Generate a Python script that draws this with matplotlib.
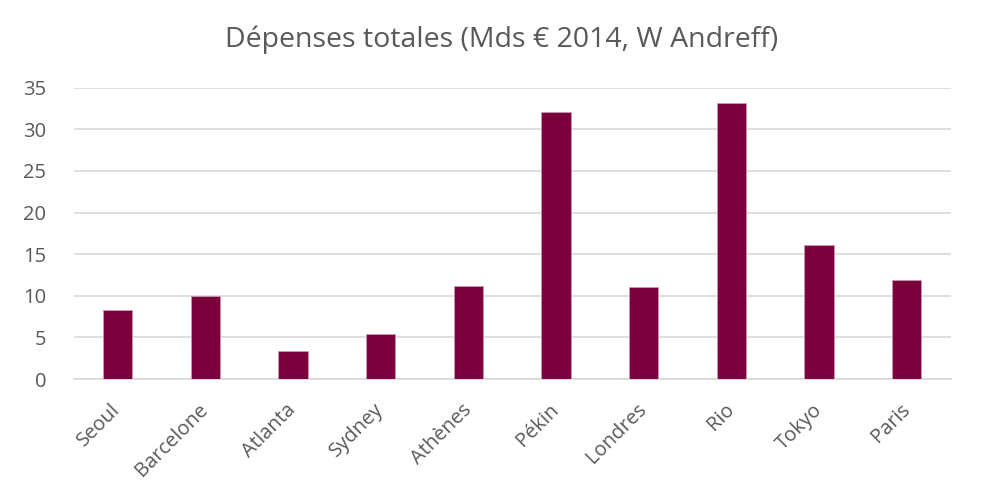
import matplotlib.pyplot as plt

# Dépenses totales par ville olympique (Mds € 2014)
villes = ["Seoul", "Barcelone", "Atlanta", "Sydney", "Athènes", "Pékin", "Londres", "Rio", "Tokyo", "Paris"]
depenses = [8.33, 10.0, 3.37, 5.44, 11.15, 32.13, 11.0, 33.2, 16.08, 11.87]
graduations = [0, 5, 10, 15, 20, 25, 30, 35]

gris = "#595959"
plt.rcParams["font.family"] = ["Open Sans", "DejaVu Sans"]

fig = plt.figure(figsize=(9.84, 5.04), dpi=100)
ax = fig.add_axes([0.075, 0.248, 0.891, 0.578])

ax.bar(villes, depenses, width=0.335, color="#7B003C", edgecolor="#C79AB0", linewidth=0.6, zorder=3)

ax.set_ylim(0, 35)
ax.set_xlim(-0.5, len(villes) - 0.5)
ax.set_yticks(graduations)
ax.grid(axis="y", color="#D9D9D9", linewidth=1.2, zorder=0)

for s in ["top", "right", "left"]:
    ax.spines[s].set_visible(False)
ax.spines["bottom"].set_color("#D9D9D9")
ax.spines["bottom"].set_linewidth(1.2)

ax.tick_params(axis="both", length=0, labelsize=14.5, labelcolor=gris)
ax.tick_params(axis="y", pad=20)
ax.tick_params(axis="x", pad=20)
plt.setp(ax.get_xticklabels(), rotation=45, ha="right", va="center", rotation_mode="anchor")

fig.suptitle("Dépenses totales (Mds € 2014, W Andreff)", x=0.51, y=0.95, fontsize=20.5, color=gris)

plt.savefig("out.png", dpi=100)
